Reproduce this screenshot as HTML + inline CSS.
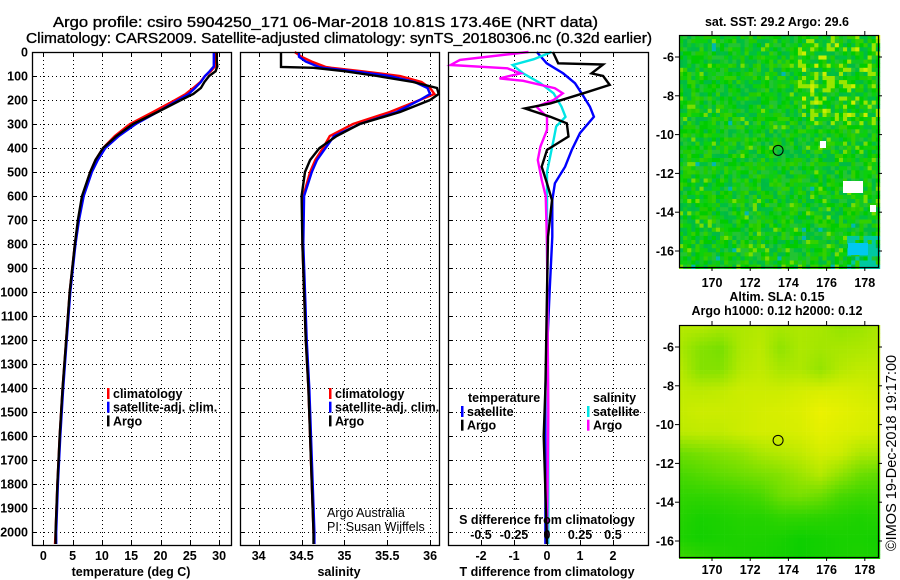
<!DOCTYPE html>
<html><head><meta charset="utf-8">
<style>
html,body{margin:0;padding:0;background:#fff;}
svg{display:block;font-family:"Liberation Sans",sans-serif;}
.b{font-weight:bold;font-size:12.5px;}
</style></head>
<body>
<svg id="chart" width="900" height="580" viewBox="0 0 900 580" xmlns="http://www.w3.org/2000/svg">
<text x="53" y="27" font-size="15" stroke="#000" stroke-width="0.35" textLength="545" lengthAdjust="spacingAndGlyphs">Argo profile: csiro 5904250_171 06-Mar-2018 10.81S 173.46E (NRT data)</text>
<text x="26" y="43" font-size="15" stroke="#000" stroke-width="0.35" textLength="626" lengthAdjust="spacingAndGlyphs">Climatology: CARS2009. Satellite-adjusted climatology: synTS_20180306.nc (0.32d earlier)</text>
<g id="g"></g>
</svg>
<script>
// ---------- data ----------
const depthTicks = [0,100,200,300,400,500,600,700,800,900,1000,1100,1200,1300,1400,1500,1600,1700,1800,1900,2000];
const tTicks = [0,5,10,15,20,25,30];
const sTicks = [34,34.5,35,35.5,36];
const sTickLabels = ["34","34.5","35","35.5","36"];
const dTTicks = [-2,-1,0,1,2];
const dSTicks = [-0.5,-0.25,0,0.25,0.5];
const dSTickLabels = ["-0.5","-0.25","0","0.25","0.5"];

const tDepths = [0,20,40,60,80,100,125,150,175,200,250,300,350,400,450,500,600,700,800,1000,1200,1400,1600,1800,2000,2050];
const tArgo = [29.6,29.6,29.6,29.7,29.4,28.3,27.5,26.9,25.6,23.5,19.5,15.3,12.5,10.2,8.9,8.0,6.6,5.9,5.4,4.5,3.9,3.3,2.8,2.4,2.1,2.1];
const tClim = [29.3,29.3,29.3,29.3,28.6,27.6,26.8,25.6,24.3,22.5,18.7,14.8,12.2,10.2,8.9,8.0,6.7,6.0,5.4,4.5,3.9,3.3,2.8,2.4,2.1,2.0];
const tSat  = [29.1,29.1,29.1,29.1,28.4,27.6,26.9,25.9,24.8,23.0,19.5,15.8,12.9,10.6,9.3,8.3,6.9,6.1,5.5,4.6,4.0,3.4,2.9,2.5,2.2,2.2];

const sDepths = [0,20,40,62,66,80,100,125,150,175,200,250,300,350,400,450,500,600,800,1000,1200,1400,1600,1800,2000,2050];
const sArgo = [34.26,34.26,34.26,34.26,34.64,35.0,35.38,35.8,36.08,36.1,36.0,35.65,35.18,34.91,34.71,34.6,34.54,34.5,34.51,34.53,34.55,34.58,34.6,34.62,34.64,34.64];
const sClim = [34.42,34.5,34.62,34.78,34.85,35.2,35.65,35.9,36.0,36.05,35.88,35.53,35.1,34.83,34.75,34.66,34.6,34.52,34.51,34.53,34.55,34.58,34.6,34.62,34.64,34.65];
const sSat  = [34.47,34.47,34.55,34.7,34.75,35.1,35.53,35.82,35.97,36.0,35.88,35.61,35.18,34.88,34.78,34.68,34.62,34.53,34.52,34.54,34.56,34.59,34.61,34.63,34.65,34.65];

const dTSatDepths = [0,47,89,130,172,228,270,338,408,478,547,617,770,1000,1400,2050];
const dTSat = [-0.31,-0.01,0.49,0.85,1.05,1.3,1.42,1.0,0.75,0.55,0.24,0.16,0.16,0.08,-0.05,-0.05];
const dTArgoDepths = [0,47,52,89,100,137,172,214,235,270,297,352,408,478,547,617,770,1000,1400,1600,2050];
const dTArgo = [0.18,0.34,1.7,1.35,1.7,1.9,1.1,0.1,-0.67,0.1,0.6,0.65,0.0,-0.16,0.0,0.15,0.03,0.0,-0.05,-0.1,0.0];
const dSArgoDepths = [0,33,54,68,89,110,120,151,172,200,228,270,325,394,450,533,600,800,1500,2050];
const dSArgo = [-0.14,-0.66,-0.73,-0.3,-0.2,-0.36,-0.18,0.06,0.12,0.05,-0.08,0,0,-0.05,-0.07,-0.04,-0.01,0,0.01,0.0];
const dSSatDepths = [0,30,54,89,130,172,228,270,310,366,500,800,1500,2050];
const dSSat = [0.035,-0.1,-0.26,-0.18,-0.05,0.05,0.11,0.14,0.07,0.05,0.0,0.0,0.01,0.01];

const lonTicks = [170,172,174,176,178];
const latTicks = [-6,-8,-10,-12,-14,-16];
// coarse SLA field (rows north->south, cols west->east), values 0..1 (0 green, 1 yellow)
const slaGrid = [
 [0.75,0.75,0.7,0.72,0.75,0.7,0.72,0.7,0.62,0.65,0.72],
 [0.7,0.55,0.5,0.72,0.78,0.6,0.72,0.68,0.7,0.72,0.75],
 [0.75,0.55,0.55,0.75,0.8,0.7,0.72,0.62,0.75,0.8,0.8],
 [0.8,0.78,0.8,0.85,0.85,0.85,0.88,0.9,0.9,0.88,0.85],
 [0.82,0.85,0.85,0.85,0.88,0.9,0.92,0.98,0.95,0.92,0.9],
 [0.78,0.8,0.8,0.85,0.88,0.88,0.9,0.95,0.92,0.9,0.88],
 [0.45,0.5,0.55,0.6,0.7,0.75,0.8,0.88,0.85,0.72,0.7],
 [0.3,0.35,0.4,0.45,0.5,0.55,0.65,0.75,0.6,0.45,0.4],
 [0.2,0.2,0.22,0.25,0.3,0.45,0.5,0.45,0.3,0.25,0.25],
 [0.15,0.1,0.12,0.15,0.15,0.2,0.2,0.18,0.15,0.12,0.15],
 [0.12,0.08,0.1,0.12,0.12,0.1,0.06,0.08,0.1,0.1,0.08],
 [0.25,0.2,0.15,0.12,0.1,0.08,0.05,0.08,0.1,0.12,0.1]
];

// ---------- drawing ----------
const NS='http://www.w3.org/2000/svg';
const g=document.getElementById('g');
function el(tag,attrs,parent){const e=document.createElementNS(NS,tag);for(const k in attrs)e.setAttribute(k,attrs[k]);(parent||g).appendChild(e);return e;}
function txt(x,y,s,attrs,parent){const e=el('text',Object.assign({x:x,y:y},attrs||{}),parent);e.textContent=s;return e;}

const TOP=52,BOT=545;
const yD=d=>TOP+d*0.24;
const P1={x0:32,x1:231,f:v=>43.3+v*5.86};
const P2={x0:240,x1:439,f:v=>258.7+(v-34)*85.7};
const P3={x0:448,x1:648,f:v=>547+v*33};
const fS3=v=>547+v*132;

function panel(P,name){
  const pg=el('g',{});
  
  
  return pg;
}
function frame(P,pg){
  el('rect',{x:P.x0+0.5,y:TOP+0.5,width:P.x1-P.x0,height:BOT-TOP,fill:'none',stroke:'#000','stroke-width':1.3},pg);
}
function grid(P,pg,xs,f){
  xs.forEach(v=>{const x=Math.round(f(v))+0.5;el('line',{x1:x,x2:x,y1:TOP,y2:BOT,stroke:'#000','stroke-dasharray':'1,3','stroke-width':1},pg);
    el('line',{x1:x,x2:x,y1:TOP,y2:TOP+4,stroke:'#000'},pg);el('line',{x1:x,x2:x,y1:BOT-4,y2:BOT,stroke:'#000'},pg);});
  depthTicks.forEach(d=>{const y=Math.round(yD(d))+0.5;el('line',{x1:P.x0,x2:P.x1,y1:y,y2:y,stroke:'#000','stroke-dasharray':'1,3','stroke-width':1},pg);
    el('line',{x1:P.x0,x2:P.x0+5,y1:y,y2:y,stroke:'#000'},pg);});
}
function line(pg,depths,vals,f,color,name,w){
  const pts=depths.map((d,i)=>f(vals[i]).toFixed(1)+','+yD(d).toFixed(1)).join(' ');
  const p=el('polyline',{points:pts,fill:'none',stroke:color,'stroke-width':w||2.4,'stroke-linejoin':'miter'},pg);
  
  
}
function legend(pg,x,y,items){
  items.forEach((it,i)=>{
    const yy=y+i*13.7;
    el('rect',{x:x,y:yy-10,width:2.5,height:11,fill:it[1]},pg);
    const t=txt(x+6,yy,it[0],{class:'b'},pg);
    
    
  });
}

// panel 1
const p1=panel(P1,'temperature-panel');
grid(P1,p1,tTicks,P1.f);
line(p1,tDepths,tClim,P1.f,'#ff0000','temp-climatology-line');
line(p1,tDepths,tSat,P1.f,'#0000ff','temp-satellite-line');
line(p1,tDepths,tArgo,P1.f,'#000000','temp-argo-line');
frame(P1,p1);
depthTicks.forEach(d=>{const t=txt(28,yD(d)+4.5,String(d),{class:'b','text-anchor':'end'},p1);});
tTicks.forEach(v=>{const t=txt(P1.f(v),560,String(v),{class:'b','text-anchor':'middle'},p1);});
const xt1=txt(131,576,'temperature (deg C)',{class:'b','text-anchor':'middle'},p1);

legend(p1,107,398,[['climatology','#ff0000'],['satellite-adj. clim.','#0000ff'],['Argo','#000']]);

// panel 2
const p2=panel(P2,'salinity-panel');
grid(P2,p2,sTicks,P2.f);
line(p2,sDepths,sClim,P2.f,'#ff0000','sal-climatology-line');
line(p2,sDepths,sSat,P2.f,'#0000ff','sal-satellite-line');
line(p2,sDepths,sArgo,P2.f,'#000000','sal-argo-line');
frame(P2,p2);
sTicks.forEach((v,i)=>{const t=txt(P2.f(v),560,sTickLabels[i],{class:'b','text-anchor':'middle'},p2);});
const xt2=txt(339,576,'salinity',{class:'b','text-anchor':'middle'},p2);

legend(p2,329,398,[['climatology','#ff0000'],['satellite-adj. clim.','#0000ff'],['Argo','#000']]);
const cr1=txt(327,517,'Argo Australia',{'font-size':12.5},p2);
const cr2=txt(327,531,'PI: Susan Wijffels',{'font-size':12.5},p2);

// panel 3
const p3=panel(P3,'difference-panel');
grid(P3,p3,dTTicks,P3.f);
line(p3,dTSatDepths,dTSat,P3.f,'#0000ff','dT-satellite-line');
line(p3,dSSatDepths,dSSat,fS3,'#00e5e5','dS-satellite-line');
line(p3,dSArgoDepths,dSArgo,fS3,'#ff00ff','dS-argo-line');
line(p3,dTArgoDepths,dTArgo,P3.f,'#000000','dT-argo-line');
frame(P3,p3);
dTTicks.forEach(v=>{const t=txt(P3.f(v),560,String(v),{class:'b','text-anchor':'middle'},p3);});
dSTicks.forEach((v,i)=>{const t=txt(fS3(v),539,dSTickLabels[i],{class:'b','text-anchor':'middle'},p3);});
const xs3=txt(547,524,'S difference from climatology',{class:'b','text-anchor':'middle'},p3);

const xt3=txt(547,576,'T difference from climatology',{class:'b','text-anchor':'middle'},p3);

const lt=txt(468,402,'temperature',{class:'b'},p3);
const ls=txt(593,402,'salinity',{class:'b'},p3);
legend(p3,461,416,[['satellite','#0000ff'],['Argo','#000']]);
legend(p3,587,416,[['satellite','#00e5e5'],['Argo','#ff00ff']]);

// ---------- maps ----------
const MX0=679,MX1=878;
const lonX=lon=>712+(lon-170)*19.1;
function mapAxes(mg,y0,y1,latY,labelY){
  el('rect',{x:MX0+0.5,y:y0+0.5,width:MX1-MX0,height:y1-y0,fill:'none',stroke:'#000','stroke-width':1.2},mg);
  lonTicks.forEach(l=>{const x=lonX(l);el('line',{x1:x,x2:x,y1:y1,y2:y1+4,stroke:'#000'},mg);el('line',{x1:x,x2:x,y1:y0-4,y2:y0,stroke:'#000'},mg);
    const t=txt(x,labelY,String(l),{class:'b','text-anchor':'middle'},mg);});
  latTicks.forEach(l=>{const y=latY(l);el('line',{x1:MX0-4,x2:MX0,y1:y,y2:y,stroke:'#000'},mg);el('line',{x1:MX1,x2:MX1+4,y1:y,y2:y,stroke:'#000'},mg);
    const t=txt(674,y+4.5,String(l),{class:'b','text-anchor':'end'},mg);});
  const px=lonX(173.46),py=latY(-10.81);
  const c=el('circle',{cx:px,cy:py,r:5,fill:'none',stroke:'#000','stroke-width':1},mg);
  
}
// SST map (texture)
const m1=el('g',{});
const mt1=txt(777,26,'sat. SST: 29.2 Argo: 29.6',{class:'b','text-anchor':'middle'},m1);

let seed=12345;const rnd=()=>{seed=(seed*1103515245+12345)%2147483648;return seed/2147483648;};
const top1=35,bot1=267,cs=4.1;
el('rect',{x:MX0,y:top1,width:MX1-MX0,height:bot1-top1,fill:'#11cc11'},m1);
const sstCols=['#00cc00','#22cc00','#11c822','#00c040','#33d000','#00bb44','#0cd00c','#22c433'];
for(let r=0;r*cs<bot1-top1;r++){for(let c=0;c*cs<MX1-MX0;c++){
  const v=rnd();let col=sstCols[Math.floor(rnd()*sstCols.length)];
  const ne=(c>28&&r<22);
  if(ne&&v<0.16)col='#99e600';else if(ne&&v<0.2)col='#ccee00';else if(v<0.04)col='#77dd00';else if(v<0.05)col='#00b8b0';
  if(r>48&&c>40&&v<0.5)col='#00c8a0';
  el('rect',{x:MX0+c*cs,y:top1+r*cs,width:cs+0.3,height:cs+0.3,fill:col},m1);
}}
el('rect',{x:843,y:181,width:20,height:12,fill:'#fff'},m1);
el('rect',{x:820,y:141,width:6,height:7,fill:'#fff'},m1);
el('rect',{x:870,y:205,width:6,height:7,fill:'#fff'},m1);
el('rect',{x:848,y:243,width:20,height:12,fill:'#00c8f0'},m1);
mapAxes(m1,top1,bot1,l=>57+(-6-l)*19.4,287);

// SLA map
const m2=el('g',{});
const mt2=txt(777,301,'Altim. SLA: 0.15',{class:'b','text-anchor':'middle'},m2);

const mt3=txt(777,315,'Argo h1000: 0.12 h2000: 0.12',{class:'b','text-anchor':'middle'},m2);

const top2=325,bot2=557;
const nr=slaGrid.length,nc=slaGrid[0].length;
function slaAt(fx,fy){const x=fx*(nc-1),y=fy*(nr-1);const c0=Math.min(Math.floor(x),nc-2),r0=Math.min(Math.floor(y),nr-2);const tx=x-c0,ty=y-r0;
  return (slaGrid[r0][c0]*(1-tx)+slaGrid[r0][c0+1]*tx)*(1-ty)+(slaGrid[r0+1][c0]*(1-tx)+slaGrid[r0+1][c0+1]*tx)*ty;}
function slaCol(v){const r=Math.round(v*240),gg=Math.round(205+v*37),b=0;return 'rgb('+r+','+gg+','+b+')';}
for(let y=top2;y<bot2;y+=4.1){for(let x=MX0;x<MX1;x+=4.1){
  el('rect',{x:x,y:y,width:4.4,height:4.4,fill:slaCol(slaAt((x-MX0)/(MX1-MX0),(y-top2)/(bot2-top2)))},m2);}}
mapAxes(m2,top2,bot2,l=>347+(-6-l)*19.4,574);

const cp=txt(0,0,'©IMOS 19-Dec-2018 19:17:00',{'font-size':14.5,transform:'translate(896,551) rotate(-90)'});

</script>
</body></html>
